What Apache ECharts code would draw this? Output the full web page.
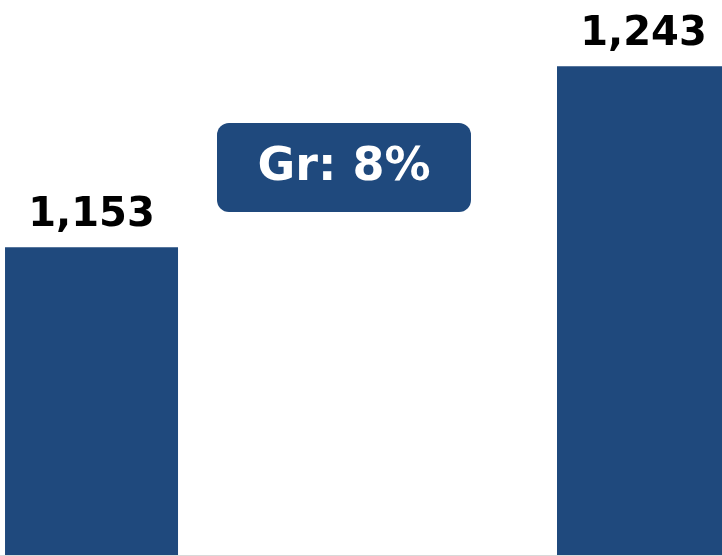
<!DOCTYPE html>
<html>
<head>
<meta charset="utf-8">
<script src="https://cdn.jsdelivr.net/npm/echarts@6/dist/echarts.min.js"></script>
<style>
  html, body { margin: 0; padding: 0; background: #ffffff; }
  #chart { width: 722px; height: 556px; }
</style>
</head>
<body>
<div id="chart"></div>
<script>
// data
var categories = ['Year 1', 'Year 2'];
var values = [1153, 1243];
var barColor = '#1F497D';

// growth between the two bars
var growth = Math.round((values[1] / values[0] - 1) * 100);

// bars sit on positions 0 and 1 of a value axis so the view can crop the right bar
var seriesData = values.map(function (v, i) {
    return { name: categories[i], value: [i, v] };
});

var myChart = echarts.init(document.getElementById('chart'));
myChart.setOption({
    animation: false,
    grid: {
        left: 0,
        right: 0,
        top: 0,
        bottom: 1
    },
    xAxis: {
        type: 'value',
        min: -0.1658,
        max: 1.1422,
        axisLine: { show: true, onZero: false, lineStyle: { color: '#d9d9d9', width: 1 } },
        axisTick: { show: false },
        axisLabel: { show: false },
        splitLine: { show: false }
    },
    yAxis: {
        type: 'value',
        min: 1000,
        max: 1276,
        show: false,
        splitLine: { show: false }
    },
    series: [{
        type: 'bar',
        data: seriesData,
        barWidth: 173,
        itemStyle: { color: barColor },
        label: {
            show: true,
            position: 'top',
            distance: 12,
            color: '#000000',
            fontFamily: 'Verdana, "DejaVu Sans", sans-serif',
            fontWeight: 'bold',
            fontSize: 40,
            formatter: function (p) {
                return p.value[1].toLocaleString('en-US');
            }
        }
    }],
    graphic: [{
        type: 'group',
        left: 217,
        top: 123,
        children: [{
            type: 'rect',
            shape: { x: 0, y: 0, width: 254, height: 89, r: 12 },
            style: { fill: barColor }
        }, {
            type: 'text',
            x: 127,
            y: 45,
            style: {
                text: 'Gr: ' + growth + '%',
                fill: '#ffffff',
                font: 'bold 46px Verdana, "DejaVu Sans", sans-serif',
                textAlign: 'center',
                textVerticalAlign: 'middle'
            }
        }]
    }]
});
</script>
</body>
</html>
